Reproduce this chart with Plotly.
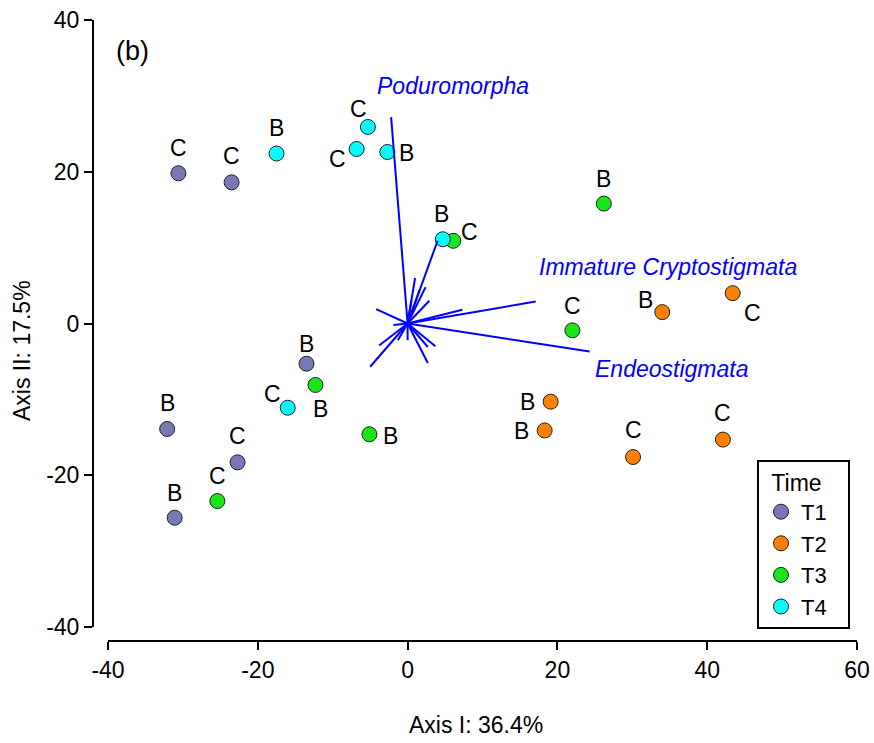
import plotly.graph_objects as go

# ---- site scores on the first two ordination axes, by sampling time ----
t1_x = [-30.6, -23.5, -13.5, -32.1, -22.7, -31.1]
t1_y = [19.8, 18.6, -5.3, -13.9, -18.3, -25.6]
t1_lab = ["C", "C", "B", "B", "C", "B"]

t2_x = [34.0, 43.4, 19.1, 18.3, 30.1, 42.1]
t2_y = [1.5, 4.0, -10.3, -14.1, -17.6, -15.3]
t2_lab = ["B", "C", "B", "B", "C", "C"]

t3_x = [26.2, 6.1, 22.0, -12.3, -5.1, -25.4]
t3_y = [15.8, 10.9, -0.9, -8.1, -14.6, -23.4]
t3_lab = ["B", "C", "C", "B", "B", "C"]

t4_x = [-17.5, -5.3, -6.8, -2.7, 4.7, -16.0]
t4_y = [22.4, 25.9, 23.0, 22.6, 11.1, -11.1]
t4_lab = ["B", "C", "C", "B", "B", "C"]

# label placement around each point (pixels: right, down)
t1_off = [(0, -25), (0, -26), (0, -20), (0, -26), (0, -26), (0, -25)]
t2_off = [(-17, -12), (20, 20), (-23, 0), (-23, 1), (0, -27), (0, -27)]
t3_off = [(0, -25), (16, -9), (0, -24), (5, 24), (21, 2), (0, -25)]
t4_off = [(0, -26), (-9, -18), (-19, 10), (19, 1), (-1, -25), (-15, -14)]

# ---- taxon loadings (vector tips) ----
vec_x = [-2.2, 17.1, 24.3, 4.0, 1.0, 2.4, 2.9, -4.2, 7.3, -1.9,
         -3.8, -5.0, 0.0, 2.7, 3.7, 2.7, -1.3, 1.6, 0.5]
vec_y = [27.2, 2.9, -3.7, 10.9, 6.0, 4.8, 3.0, 1.9, 1.8, -0.2,
         -2.9, -5.7, -2.2, -5.2, -3.0, -3.1, -2.2, 4.4, 3.0]

vec_names = ["Poduromorpha", "Immature Cryptostigmata", "Endeostigmata"]
vec_lab_x = [6.0, 34.8, 35.2]
vec_lab_y = [31.3, 7.4, -6.0]

times = ["T1", "T2", "T3", "T4"]
colors = ["#7878B8", "#FF8000", "#19E619", "#00FFFF"]

x_ticks = [-40, -20, 0, 20, 40, 60]
x_ticktext = ["-40", "-20", "0", "20", "40", "60"]
y_ticks = [-40, -20, 0, 20, 40]
y_ticktext = ["-40", "-20", "0", "20", "40"]

FONT = "Liberation Sans, Arial, Helvetica, sans-serif"
FS = 23
W, H = 874, 743

groups = [
    (t1_x, t1_y, t1_lab, t1_off),
    (t2_x, t2_y, t2_lab, t2_off),
    (t3_x, t3_y, t3_lab, t3_off),
    (t4_x, t4_y, t4_lab, t4_off),
]

fig = go.Figure()
annotations = []

for (gx, gy, glab, goff), name, col in zip(groups, times, colors):
    fig.add_trace(go.Scatter(
        x=gx, y=gy, mode="markers", name=name,
        marker=dict(size=15, color=col, line=dict(color="#222222", width=1)),
        cliponaxis=False,
    ))
    for xv, yv, lab, (dx, dy) in zip(gx, gy, glab, goff):
        annotations.append(dict(
            x=xv, y=yv, xref="x", yref="y", text=lab, showarrow=False,
            xanchor="center", yanchor="middle", xshift=dx, yshift=-dy,
            font=dict(size=FS, color="black", family=FONT),
        ))

# loading vectors drawn from the origin
lx, ly = [], []
for vx, vy in zip(vec_x, vec_y):
    lx += [0, vx, None]
    ly += [0, vy, None]
fig.add_trace(go.Scatter(
    x=lx, y=ly, mode="lines", showlegend=False, hoverinfo="skip",
    line=dict(color="#0000FF", width=2),
))

for name, xv, yv in zip(vec_names, vec_lab_x, vec_lab_y):
    annotations.append(dict(
        x=xv, y=yv, xref="x", yref="y", text=f"<i>{name}</i>", showarrow=False,
        xanchor="center", yanchor="middle",
        font=dict(size=FS, color="#0000FF", family=FONT),
    ))

# panel tag and axis titles
annotations.append(dict(
    x=132 / W, y=1 - 51 / H, xref="paper", yref="paper", text="(b)",
    showarrow=False, xanchor="center", yanchor="middle",
    font=dict(size=27, color="black", family=FONT),
))
annotations.append(dict(
    x=476 / W, y=1 - 725 / H, xref="paper", yref="paper", text="Axis I: 36.4%",
    showarrow=False, xanchor="center", yanchor="middle",
    font=dict(size=FS, color="black", family=FONT),
))
annotations.append(dict(
    x=22 / W, y=1 - 351 / H, xref="paper", yref="paper", text="Axis II: 17.5%",
    showarrow=False, xanchor="center", yanchor="middle", textangle=-90,
    font=dict(size=FS, color="black", family=FONT),
))

# frame around the legend
shapes = [dict(
    type="rect", xref="paper", yref="paper",
    x0=758 / W, x1=849 / W, y0=1 - 628 / H, y1=1 - 461 / H,
    line=dict(color="black", width=2), fillcolor="rgba(0,0,0,0)", layer="above",
)]

axis_common = dict(
    showgrid=False, zeroline=False, showline=True, linecolor="black", linewidth=2,
    ticks="outside", ticklen=8, tickwidth=2, tickcolor="black",
    tickfont=dict(size=FS, color="black", family=FONT), automargin=False,
)

fig.update_layout(
    width=W, height=H,
    margin=dict(l=0, r=0, t=0, b=0),
    template="none",
    paper_bgcolor="white", plot_bgcolor="white",
    font=dict(family=FONT, size=FS, color="black"),
    xaxis=dict(
        range=[-40, 60], domain=[108 / W, 857 / W],
        anchor="free", position=1 - 641 / H,
        tickvals=x_ticks, ticktext=x_ticktext, **axis_common,
    ),
    yaxis=dict(
        range=[-40, 40], domain=[1 - 627 / H, 1 - 20 / H],
        anchor="free", position=93 / W,
        tickvals=y_ticks, ticktext=y_ticktext, **axis_common,
    ),
    legend=dict(
        title=dict(text="Time", side="top center", font=dict(size=FS, family=FONT)),
        x=761 / W, y=1 - 461 / H, xanchor="left", yanchor="top",
        borderwidth=0, bgcolor="rgba(0,0,0,0)",
        font=dict(size=22, family=FONT, color="black"),
        itemsizing="trace",
    ),
    shapes=shapes,
    annotations=annotations,
    showlegend=True,
)

fig.write_html("out.html")
